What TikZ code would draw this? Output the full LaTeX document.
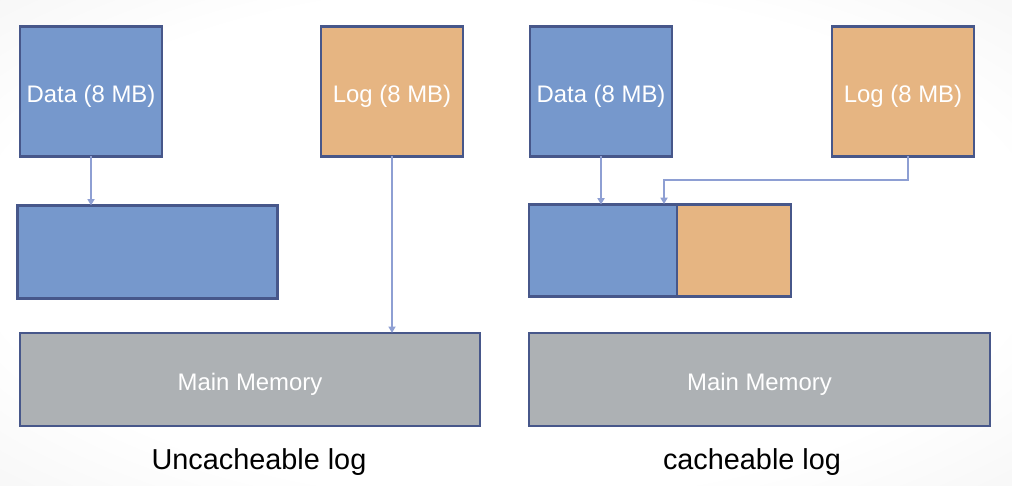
\documentclass[tikz,border=0pt]{standalone}
\usepackage{fontspec}
\setmainfont{Liberation Sans}
\usetikzlibrary{positioning,arrows.meta,calc}

\definecolor{blkblue}{RGB}{118,152,204}
\definecolor{blkorange}{RGB}{230,181,130}
\definecolor{memgray}{RGB}{173,177,180}
\definecolor{edgeblue}{RGB}{71,87,138}
\definecolor{feedblue}{RGB}{142,159,211}
\definecolor{slidegray}{RGB}{218,218,218}

% soft grey vignette of the slide
\pgfdeclareradialshading{slidebg}{\pgfpoint{0bp}{0bp}}{color(0bp)=(white); color(26bp)=(white); color(72bp)=(slidegray)}

\begin{document}
\begin{tikzpicture}[x=0.025cm, y=-0.025cm, font=\fontsize{17}{20}\selectfont,
  blk/.style={draw=edgeblue, line width=2pt, text=white, inner sep=0pt, outer sep=0pt, text height=17pt, text depth=2pt},
  datablk/.style={blk, fill=blkblue, minimum width=3.55cm, minimum height=3.23cm},
  logblk/.style={blk, fill=blkorange, minimum width=3.55cm, minimum height=3.23cm},
  membox/.style={blk, line width=1.4pt, fill=memgray, minimum width=11.5cm, minimum height=2.33cm},
  feed/.style={draw=feedblue, line width=1.1pt, -{Triangle[length=4.5pt,width=5pt]}},
  caption/.style={font=\fontsize{20.5}{24}\selectfont}]
  \shade[shading=slidebg] (0,0) rectangle (1012,486);
  \useasboundingbox (0,0) rectangle (1012,486);

  % uncacheable side
  \node[datablk] (dataL) at (91,91.5) {Data (8 MB)};
  \node[logblk] (logL) at (392,91.5) {Log (8 MB)};
  \node[blk, fill=blkblue, minimum width=6.5cm, minimum height=2.33cm] (cacheL) at (147.5,252) {};
  \node[membox] (memL) at (250,379.5) {Main Memory};
  \node[caption] (capL) at (259,462.5) {Uncacheable log};

  % cacheable side
  \node[datablk] (dataR) at (601,91.5) {Data (8 MB)};
  \node[logblk] (logR) at (903,91.5) {Log (8 MB)};
  \node[blk, fill=blkblue, minimum width=3.7cm, minimum height=2.3cm] (cacheRB) at (603,250.5) {};
  \node[blk, fill=blkorange, minimum width=2.85cm, minimum height=2.3cm, right=0pt of cacheRB] (cacheRO) {};
  \node[membox] (memR) at (759.5,379.5) {Main Memory};
  \node[caption] (capR) at (752,462.5) {cacheable log};

  \coordinate (login) at (664,204);

  \draw[feed] (dataL) -- (dataL |- cacheL.north);
  \draw[feed] (logL) -- (logL |- memL.north);
  \draw[feed] (dataR) -- (dataR |- cacheRB.north);
  \draw[feed] ($(logR.south)+(5,0)$) -- ++(0,24) -| (login);
\end{tikzpicture}
\end{document}
